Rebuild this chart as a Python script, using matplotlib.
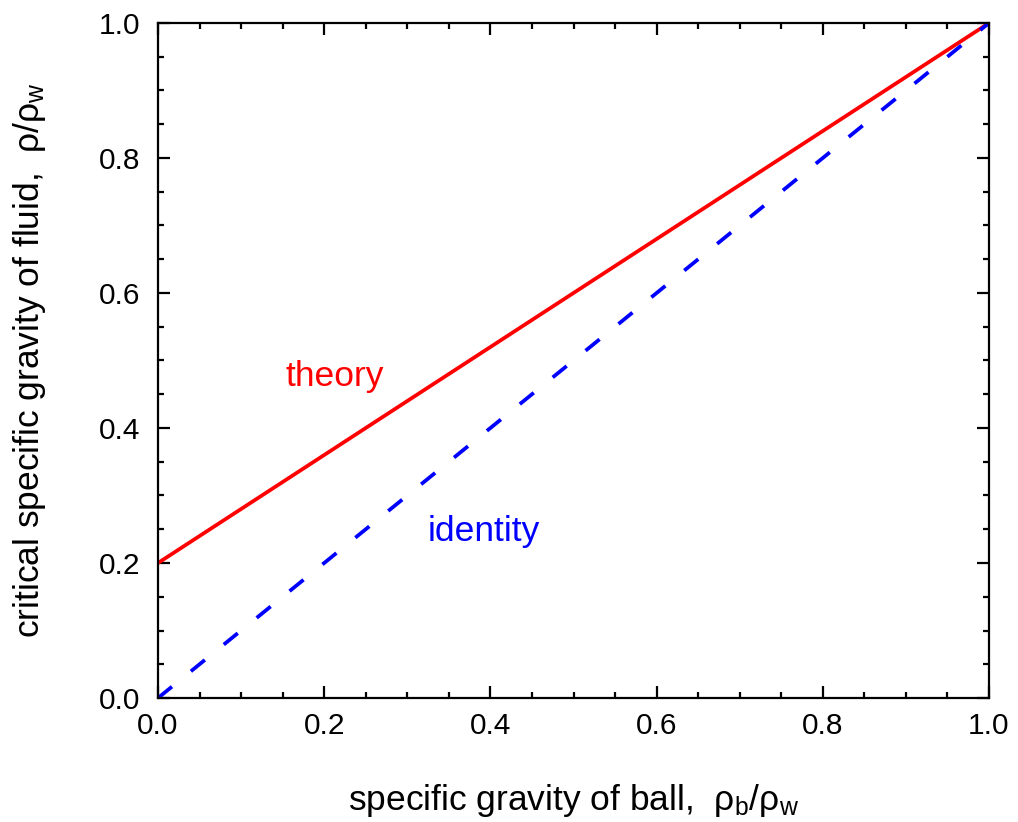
import matplotlib
matplotlib.use("Agg")
import matplotlib.pyplot as plt
from matplotlib.ticker import MultipleLocator

# data
x_vals = [0.0, 1.0]
theory_vals = [0.2, 1.0]
identity_vals = [0.0, 1.0]
xticks = [0.0, 0.2, 0.4, 0.6, 0.8, 1.0]
yticks = [0.0, 0.2, 0.4, 0.6, 0.8, 1.0]

plt.rcParams['font.family'] = ['Liberation Sans', 'DejaVu Sans']
plt.rcParams['mathtext.fontset'] = 'custom'
plt.rcParams['mathtext.rm'] = 'Liberation Sans'
plt.rcParams['mathtext.it'] = 'Liberation Sans'
plt.rcParams['mathtext.bf'] = 'Liberation Sans:bold'

fig = plt.figure(figsize=(10.18, 8.22), dpi=100)
ax = fig.add_axes([158/1018, 1-698/822, (989-158)/1018, (698-23)/822])

ax.plot(x_vals, theory_vals, color='#ff0000', lw=2.7, solid_capstyle='butt')
ax.plot(x_vals, identity_vals, color='#0000ff', lw=2.7, dashes=(4.8, 6.5), dash_capstyle='butt')

ax.text(0.2125, 0.476, 'theory', color='#ff0000', fontsize=25.5, ha='center', va='center')
ax.text(0.3925, 0.246, 'identity', color='#0000ff', fontsize=25.5, ha='center', va='center')

ax.set_xlim(0, 1)
ax.set_ylim(0, 1)
ax.set_xticks(xticks)
ax.set_yticks(yticks)
ax.set_xticklabels([f'{v:.1f}' for v in xticks])
ax.set_yticklabels([f'{v:.1f}' for v in yticks])
ax.xaxis.set_minor_locator(MultipleLocator(0.05))
ax.yaxis.set_minor_locator(MultipleLocator(0.05))
ax.tick_params(which='both', direction='in', top=True, right=True, width=1.6, labelsize=21.5)
ax.tick_params(which='major', length=8.6)
ax.tick_params(axis='x', which='major', pad=10)
ax.tick_params(axis='y', which='major', pad=13)
ax.tick_params(which='minor', length=4.3)
for s in ax.spines.values():
    s.set_linewidth(1.6)

ax.set_xlabel(r'specific gravity of ball,  $\mathrm{\rho_b/\rho_w}$', fontsize=25.5, labelpad=30)
ax.set_ylabel(r'critical specific gravity of fluid,  $\mathrm{\rho/\rho_w}$', fontsize=25.5, labelpad=36)

fig.savefig('out.png', dpi=100)
